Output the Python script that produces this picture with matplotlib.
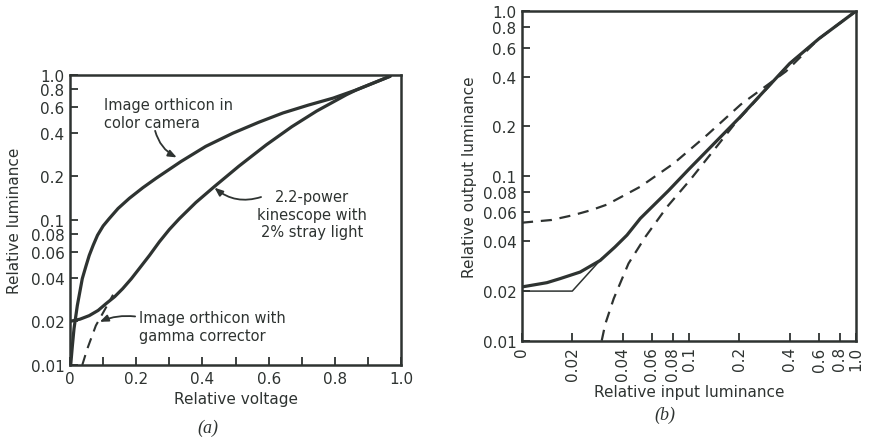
import matplotlib
matplotlib.use('Agg')
import matplotlib.pyplot as plt
from matplotlib.ticker import FixedLocator, NullLocator

# ---- panel (a): relative luminance vs relative voltage ----
camera_x = [0.002, 0.007, 0.012, 0.022, 0.037, 0.048, 0.058, 0.07, 0.083, 0.1,
            0.118, 0.145, 0.179, 0.22, 0.26, 0.335, 0.41, 0.492, 0.57, 0.643,
            0.72, 0.795, 0.866, 0.967]
camera_y = [0.01, 0.0135, 0.0178, 0.0257, 0.0394, 0.048, 0.057, 0.067, 0.0785, 0.091,
            0.102, 0.12, 0.141, 0.167, 0.194, 0.253, 0.322, 0.397, 0.472, 0.547,
            0.62, 0.693, 0.791, 0.98]

kine_x = [0.0, 0.03, 0.058, 0.085, 0.108, 0.135, 0.159, 0.185, 0.209, 0.24, 0.27,
          0.3, 0.33, 0.38, 0.436, 0.51, 0.593, 0.67, 0.745, 0.835, 0.866, 0.967]
kine_y = [0.02, 0.0207, 0.0219, 0.0238, 0.0264, 0.0296, 0.0336, 0.0393, 0.0462, 0.057, 0.0708,
          0.086, 0.102, 0.132, 0.17, 0.235, 0.33, 0.44, 0.564, 0.731, 0.791, 0.98]

gamma_x = [0.037, 0.052, 0.078, 0.118, 0.13]
gamma_y = [0.01, 0.0129, 0.0187, 0.0272, 0.0305]

a_yticks = [0.01, 0.02, 0.04, 0.06, 0.08, 0.1, 0.2, 0.4, 0.6, 0.8, 1.0]
a_ylabels = ['0.01', '0.02', '0.04', '0.06', '0.08', '0.1', '0.2', '0.4', '0.6', '0.8', '1.0']
a_xticks = [0, 0.2, 0.4, 0.6, 0.8, 1.0]
a_xlabels = ['0', '0.2', '0.4', '0.6', '0.8', '1.0']
a_xminor = [0.1, 0.3, 0.5, 0.7, 0.9]

# ---- panel (b): relative output vs input luminance (log-log) ----
# left edge of the x axis (0.01) is labelled "0" in the original
sys_x = [0.01, 0.0141, 0.0169, 0.0223, 0.0294, 0.036, 0.0425, 0.0511, 0.075, 0.1,
         0.2, 0.4, 0.6, 1.0]
sys_y = [0.0212, 0.0225, 0.0238, 0.0261, 0.0307, 0.037, 0.0437, 0.0552, 0.081, 0.11,
         0.225, 0.48, 0.68, 1.0]

asym_x = [0.01, 0.02, 0.03]
asym_y = [0.02, 0.02, 0.0315]

upper_x = [0.01, 0.015, 0.0203, 0.026, 0.0323, 0.0511, 0.081, 0.129, 0.204, 0.307,
           0.38, 0.6, 1.0]
upper_y = [0.052, 0.054, 0.0578, 0.062, 0.067, 0.086, 0.119, 0.178, 0.271, 0.367,
           0.43, 0.68, 1.0]

lower_x = [0.030, 0.0315, 0.0354, 0.0434, 0.0548, 0.074, 0.1016, 0.155, 0.19, 0.4, 0.6, 1.0]
lower_y = [0.01, 0.0126, 0.018, 0.0294, 0.0427, 0.065, 0.0946, 0.162, 0.21, 0.48, 0.68, 1.0]

b_ticks = [0.01, 0.02, 0.04, 0.06, 0.08, 0.1, 0.2, 0.4, 0.6, 0.8, 1.0]
b_xlabels = ['0', '0.02', '0.04', '0.06', '0.08', '0.1', '0.2', '0.4', '0.6', '0.8', '1.0']
b_ylabels = ['0.01', '0.02', '0.04', '0.06', '0.08', '0.1', '0.2', '0.4', '0.6', '0.8', '1.0']

ink = '#2e3331'
plt.rcParams['font.family'] = ['DejaVu Sans']

fig = plt.figure(figsize=(8.7, 4.39), dpi=100)
fig.patch.set_facecolor('white')

# ================= panel (a) =================
ax1 = fig.add_axes([0.0805, 0.1663, 0.3805, 0.6606])
ax1.set_yscale('log')
ax1.set_xlim(0, 1.0)
ax1.set_ylim(0.01, 1.0)

ax1.plot(camera_x, camera_y, color=ink, lw=2.3, solid_capstyle='round',
         solid_joinstyle='round')
ax1.plot(kine_x, kine_y, color=ink, lw=2.3, solid_capstyle='round',
         solid_joinstyle='round')
ax1.plot(gamma_x, gamma_y, color=ink, lw=1.5, dashes=(5, 3.5))

ax1.yaxis.set_major_locator(FixedLocator(a_yticks))
ax1.set_yticklabels(a_ylabels)
ax1.yaxis.set_minor_locator(NullLocator())
ax1.xaxis.set_major_locator(FixedLocator(a_xticks))
ax1.set_xticklabels(a_xlabels)
ax1.xaxis.set_minor_locator(FixedLocator(a_xminor))

ax1.tick_params(axis='both', which='both', direction='in', length=6, width=1.3,
                color=ink, labelcolor=ink, labelsize=11, pad=4,
                top=False, right=False)
for s in ax1.spines.values():
    s.set_linewidth(1.8)
    s.set_color(ink)

ax1.set_xlabel('Relative voltage', fontsize=11, color=ink, labelpad=4)
ax1.set_ylabel('Relative luminance', fontsize=11, color=ink, labelpad=6)

# annotations panel (a)
ax1.text(0.103, 0.70, 'Image orthicon in\ncolor camera', fontsize=10.5,
         color=ink, ha='left', va='top', linespacing=1.25)
ax1.annotate('', xy=(0.33, 0.265), xytext=(0.255, 0.43),
             arrowprops=dict(arrowstyle='-|>,head_length=0.5,head_width=0.2',
                             color=ink, lw=1.3,
                             connectionstyle='arc3,rad=0.25'))

ax1.text(0.73, 0.163, '2.2-power\nkinescope with\n2% stray light', fontsize=10.5,
         color=ink, ha='center', va='top', linespacing=1.2)
ax1.annotate('', xy=(0.43, 0.172), xytext=(0.585, 0.146),
             arrowprops=dict(arrowstyle='-|>,head_length=0.5,head_width=0.2',
                             color=ink, lw=1.3,
                             connectionstyle='arc3,rad=-0.3'))

ax1.text(0.209, 0.0238, 'Image orthicon with\ngamma corrector', fontsize=10.5,
         color=ink, ha='left', va='top', linespacing=1.25)
ax1.annotate('', xy=(0.082, 0.0195), xytext=(0.205, 0.0215),
             arrowprops=dict(arrowstyle='-|>,head_length=0.5,head_width=0.2',
                             color=ink, lw=1.3,
                             connectionstyle='arc3,rad=0.15'))

fig.text(208 / 870, 1 - 428 / 439, '(a)', fontsize=13, color=ink,
         family='Liberation Serif', style='italic', ha='center', va='center')

# ================= panel (b) =================
ax2 = fig.add_axes([0.600, 0.2216, 0.384, 0.751])
ax2.set_xscale('log')
ax2.set_yscale('log')
ax2.set_xlim(0.01, 1.0)
ax2.set_ylim(0.01, 1.0)

ax2.plot(upper_x, upper_y, color=ink, lw=1.6, dashes=(5, 3.5))
ax2.plot(lower_x, lower_y, color=ink, lw=1.6, dashes=(5, 3.5))
ax2.plot(asym_x, asym_y, color=ink, lw=1.1)
ax2.plot(sys_x, sys_y, color=ink, lw=2.3, solid_capstyle='round',
         solid_joinstyle='round')

ax2.xaxis.set_major_locator(FixedLocator(b_ticks))
ax2.set_xticklabels(b_xlabels, rotation=90)
ax2.xaxis.set_minor_locator(NullLocator())
ax2.yaxis.set_major_locator(FixedLocator(b_ticks))
ax2.set_yticklabels(b_ylabels)
ax2.yaxis.set_minor_locator(NullLocator())

ax2.tick_params(axis='both', which='both', direction='in', length=6, width=1.3,
                color=ink, labelcolor=ink, labelsize=11, pad=4,
                top=False, right=False)
for s in ax2.spines.values():
    s.set_linewidth(1.8)
    s.set_color(ink)

ax2.set_xlabel('Relative input luminance', fontsize=11, color=ink, labelpad=3)
ax2.set_ylabel('Relative output luminance', fontsize=11, color=ink, labelpad=4)

fig.text(665 / 870, 1 - 415 / 439, '(b)', fontsize=13, color=ink,
         family='Liberation Serif', style='italic', ha='center', va='center')

plt.savefig('out.png', dpi=100, facecolor='white')
